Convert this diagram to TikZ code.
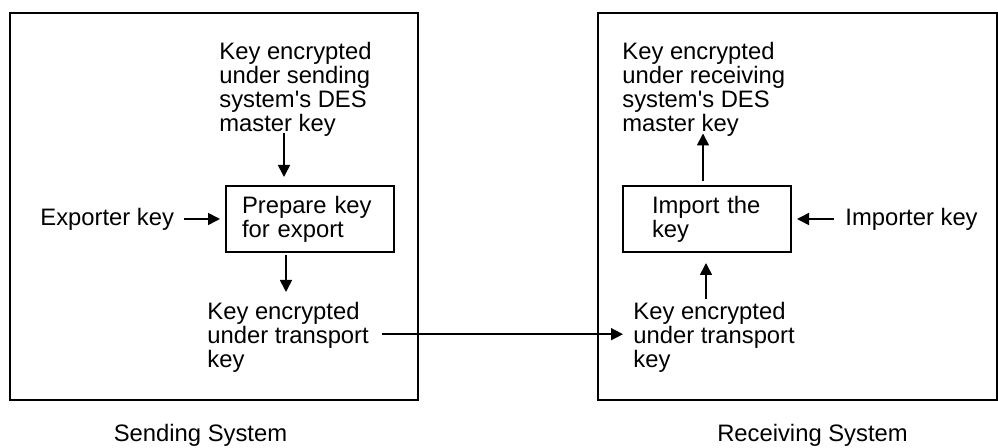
\documentclass[tikz,border=0pt]{standalone}
\usepackage{fontspec}
\setmainfont{Liberation Sans}
\usetikzlibrary{calc,arrows.meta}
\begin{document}
\begin{tikzpicture}[x=0.5pt,y=-0.5pt,
  txt/.style={inner sep=0pt,align=left,font=\fontsize{11.9}{12}\selectfont},
  sysbox/.style={draw,line width=1pt,minimum height=193.5pt},
  procbox/.style={draw,line width=1pt,minimum width=84pt,minimum height=33pt,inner ysep=0pt,align=left,font=\fontsize{11.9}{12}\selectfont},
  arr/.style={line width=0.8pt,-{Triangle[length=6pt,width=6pt]}}]
\useasboundingbox (0,0) rectangle (998,448);
% system boxes
\node[sysbox,minimum width=204pt] (sendbox) at (214,206.5) {};
\node[sysbox,minimum width=199.5pt] (recvbox) at (797.5,206.5) {};
\node[txt,anchor=base] (sendlbl) at (200.5,442) {Sending System};
\node[txt,anchor=base] (recvlbl) at (812.5,442) {Receiving System};
% sending side
\node[txt,anchor=north west] (tl) at (219,41.5) {Key encrypted\\under sending\\system\textquotesingle s DES\\master key};
\node[procbox,inner xsep=8pt,text width=68pt] (prep) at (310,219) {Prepare key\\for export};
\node[txt,anchor=base west] (exp) at (40,225.3) {Exporter key};
\node[txt,anchor=north west] (bl) at (207,301.7) {Key encrypted\\under transport\\key};
% receiving side
\node[txt,anchor=north west] (tr) at (622,41.5) {Key encrypted\\under receiving\\system\textquotesingle s DES\\master key};
\node[procbox,inner xsep=14.5pt,text width=55pt] (imp) at (707,219) {Import the\\key};
\node[txt,anchor=base west] (impk) at (845,225.3) {Importer key};
\node[txt,anchor=north west] (br) at (633,301.7) {Key encrypted\\under transport\\key};
% connector end points
\coordinate (s1) at ($(tl.south west)+(65,-3)$);
\coordinate (e1) at ($(prep.north)+(0,-8)$);
\coordinate (s2) at ($(exp.east)+(10,0)$);
\coordinate (e2) at ($(prep.west)+(-5,0)$);
\coordinate (s3) at ($(prep.south west)+(61,2)$);
\coordinate (e3) at ($(bl.north)+(0,-9.7)$);
\coordinate (s4) at ($(bl.east)+(13,-3)$);
\coordinate (e4) at ($(br.west)+(-10,-3)$);
\coordinate (s5) at ($(br.north west)+(73,-2.7)$);
\coordinate (e5) at ($(imp.south)+(0,10)$);
\coordinate (s6) at ($(imp.north west)+(81,-4)$);
\coordinate (e6) at ($(tr.south)+(0,-3)$);
\coordinate (s7) at ($(impk.west)+(-11,0)$);
\coordinate (e7) at ($(imp.east)+(5,0)$);
% connectors
\draw[arr] (s1) -- (s1 |- e1);
\draw[arr] (s2 |- e2) -- (e2);
\draw[arr] (s3) -- (s3 |- e3);
\draw[arr] (s4) -- (e4 |- s4);
\draw[arr] (s5) -- (s5 |- e5);
\draw[arr] (s6) -- (s6 |- e6);
\draw[arr] (s7 |- e7) -- (e7);
\end{tikzpicture}
\end{document}
